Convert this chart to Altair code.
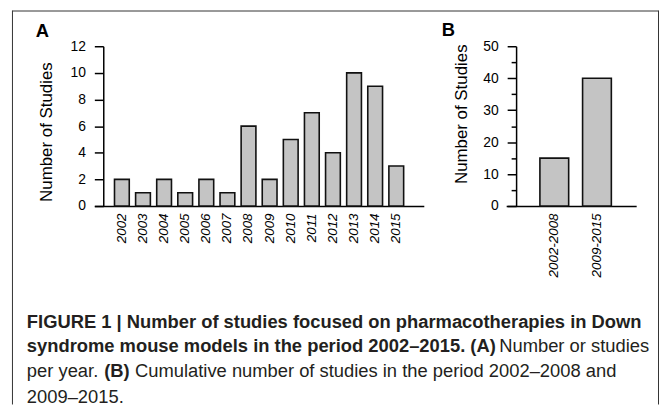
import altair as alt
import pandas as pd

# ---------------- data ----------------
years = ["2002", "2003", "2004", "2005", "2006", "2007", "2008",
         "2009", "2010", "2011", "2012", "2013", "2014", "2015"]
studies_per_year = [2, 1, 2, 1, 2, 1, 6, 2, 5, 7, 4, 10, 9, 3]

periods = ["2002-2008", "2009-2015"]
cumulative = [15, 40]

y_ticks_a = [0, 2, 4, 6, 8, 10, 12]
y_ticks_b = [0, 10, 20, 30, 40, 50]
y_minor_b = [5, 15, 25, 35, 45]

panel_letters = ["A", "B"]
y_title = "Number of Studies"

caption_segments = [
    ("FIGURE 1 | Number of studies focused on pharmacotherapies in Down", "bold"),
    ("syndrome mouse models in the period 2002\u20132015. (A)", "bold"),
    ("Number or studies", "normal"),
    ("per year.", "normal"),
    ("(B)", "bold"),
    ("Cumulative number of studies in the period 2002\u20132008 and", "normal"),
    ("2009\u20132015.", "normal"),
]

# ---------------- layout ----------------
W, H = 656, 397
FONT = "Liberation Sans"
Y0, Y1 = 197, 36              # y pixel range of both panels (zero, top)
caption_xy = [(19, 320), (19, 344), (495, 344), (19, 369), (97, 369), (128, 369), (19, 395)]
letter_xy = [(28, 27), (437, 26)]

df_a = pd.DataFrame({"year": years, "n": studies_per_year})
df_b = pd.DataFrame({"period": periods, "n": cumulative})

bar_style = dict(fill="#c4c4c4", stroke="#111111", strokeWidth=1.6)

common_axis = dict(
    domainColor="black", domainWidth=1.5, tickColor="black", tickWidth=1.5,
    labelColor="black", labelFont=FONT, titleFont=FONT, titleColor="black",
    grid=False,
)

def y_axis(values, offset, title_x, title_y):
    return alt.Axis(
        orient="left", offset=offset, values=values, tickSize=9, labelPadding=9,
        labelFontSize=14, title=y_title, titleX=title_x, titleY=title_y,
        titleAngle=270, titleAlign="center", titleBaseline="alphabetic",
        titleFontSize=17, titleFontWeight="normal", **common_axis)

def x_axis(offset):
    return alt.Axis(
        orient="bottom", offset=offset, title=None, labelAngle=270,
        labelAlign="right", labelBaseline="middle", labelFontStyle="italic",
        labelFontSize=13.5, ticks=False, tickSize=0, labelPadding=7,
        labelOverlap=False, **common_axis)

bars_a = alt.Chart(df_a).mark_bar(**bar_style).encode(
    x=alt.X("year:N", sort=years,
            scale=alt.Scale(range=[87, 419], paddingInner=0.3, paddingOuter=0.955),
            axis=x_axis(Y0 - H)),
    y=alt.Y("n:Q", scale=alt.Scale(domain=[0, 12], range=[Y0, Y1], nice=False),
            axis=y_axis(y_ticks_a, -96, -52, 122)),
)

bars_b = alt.Chart(df_b).mark_bar(**bar_style).encode(
    x=alt.X("period:N", sort=periods,
            scale=alt.Scale(range=[502, 633], paddingInner=0.326,
                            paddingOuter=0.686, align=0.576),
            axis=x_axis(Y0 - H)),
    y=alt.Y("n:Q", scale=alt.Scale(domain=[0, 50], range=[Y0, Y1], nice=False),
            axis=y_axis(y_ticks_b, -512, -50, 104)),
)

minor_b = alt.Chart(df_b).mark_bar(opacity=0).encode(
    x=alt.X("period:N", sort=periods,
            scale=alt.Scale(range=[502, 633], paddingInner=0.326,
                            paddingOuter=0.686, align=0.576),
            axis=None),
    y=alt.Y("n:Q", scale=alt.Scale(domain=[0, 50], range=[Y0, Y1], nice=False),
            axis=alt.Axis(orient="left", offset=-512, values=y_minor_b, tickSize=5,
                          labels=False, domain=False, title=None,
                          tickColor="black", tickWidth=1.5, grid=False)),
)

layers = [bars_a, bars_b, minor_b]

# panel letters
for letter, (lx, ly) in zip(panel_letters, letter_xy):
    layers.append(
        alt.Chart(pd.DataFrame({"t": [letter]})).mark_text(
            font=FONT, fontSize=18.5, fontWeight="bold", align="left",
            baseline="alphabetic", color="black"
        ).encode(text="t:N", x=alt.value(lx), y=alt.value(ly))
    )

# caption
for (seg, weight), (cx, cy) in zip(caption_segments, caption_xy):
    layers.append(
        alt.Chart(pd.DataFrame({"t": [seg]})).mark_text(
            font=FONT, fontSize=18.5, fontWeight=weight, align="left",
            baseline="alphabetic", color="#231f20"
        ).encode(text="t:N", x=alt.value(cx), y=alt.value(cy))
    )

# frame (left, right, top)
frame_style = dict(color="#333333", strokeWidth=1)
dummy = pd.DataFrame({"k": [0]})
layers.append(alt.Chart(dummy).mark_rule(**frame_style).encode(
    x=alt.value(4.5), y=alt.value(0), y2=alt.value(H)))
layers.append(alt.Chart(dummy).mark_rule(**frame_style).encode(
    x=alt.value(655.5), y=alt.value(0), y2=alt.value(H)))
layers.append(alt.Chart(dummy).mark_rule(**frame_style).encode(
    x=alt.value(4.5), x2=alt.value(655.5), y=alt.value(0.5)))

chart = alt.layer(*layers).resolve_scale(
    x="independent", y="independent"
).properties(
    width=W, height=H, padding=0
).configure_view(stroke=None)

chart.save("out.html", embed_options={"renderer": "svg", "actions": False})
